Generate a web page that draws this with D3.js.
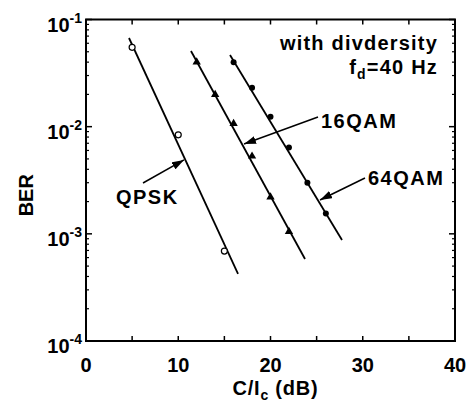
<!DOCTYPE html>
<html lang="en">
<head>
    <meta charset="UTF-8">
    <title>BER vs C/Ic with diversity</title>
    <style>
        body {
            margin: 0;
            background-color: #FFFFFF;
        }
        text {
            font-family: "Liberation Sans", Arial, sans-serif;
            font-weight: bold;
            fill: #000000;
        }
    </style>
</head>
<body>
    <div id="chart"></div>

    <script src="https://d3js.org/d3.v7.min.js"></script>
    <script>
        // Measured points (C/Ic in dB, BER)
        const qpskX = [5, 10, 15];
        const qpskBer = [0.055, 0.0084, 0.00069];
        const qam16X = [12, 14, 16, 18, 20, 22];
        const qam16Ber = [0.040, 0.0199, 0.0107, 0.0053, 0.0022, 0.00105];
        const qam64X = [16, 18, 20, 22, 24, 26];
        const qam64Ber = [0.040, 0.0231, 0.0124, 0.0064, 0.0030, 0.00155];

        // Fitted straight lines, end points
        const qpskLineX = [4.66, 16.48];
        const qpskLineBer = [0.0672, 0.000423];
        const qam16LineX = [11.38, 23.74];
        const qam16LineBer = [0.0508, 0.000582];
        const qam64LineX = [15.61, 27.75];
        const qam64LineBer = [0.0467, 0.000877];

        // Axis ticks
        const xTicks = [0, 10, 20, 30, 40];
        const xMinorTicks = [5, 15, 25, 35];
        const yTicks = [1e-4, 1e-3, 1e-2, 1e-1];
        const yTickExp = ["-4", "-3", "-2", "-1"];

        const width = 474;
        const height = 402;
        const margin = { top: 19.5, right: 19, bottom: 61, left: 86 };

        const svg = d3.select("#chart")
            .append("svg")
            .attr("width", width)
            .attr("height", height);

        const x = d3.scaleLinear()
            .domain([0, 40])
            .range([margin.left, width - margin.right]);

        const y = d3.scaleLog()
            .domain([1e-4, 1e-1])
            .range([height - margin.bottom, margin.top]);

        const x0 = x.range()[0], x1 = x.range()[1];
        const y0 = y.range()[0], y1 = y.range()[1];

        // Frame
        svg.append("rect")
            .attr("x", x0)
            .attr("y", y1)
            .attr("width", x1 - x0)
            .attr("height", y0 - y1)
            .attr("fill", "none")
            .attr("stroke", "#000")
            .attr("stroke-width", 2);

        // x ticks, inward on bottom and top
        const xAll = xTicks.concat(xMinorTicks);
        const xTickG = svg.append("g");
        xAll.forEach(v => {
            if (v === 0 || v === 40) return;
            xTickG.append("line")
                .attr("x1", x(v)).attr("x2", x(v))
                .attr("y1", y0).attr("y2", y0 - 5)
                .attr("stroke", "#000").attr("stroke-width", 1.5);
            xTickG.append("line")
                .attr("x1", x(v)).attr("x2", x(v))
                .attr("y1", y1).attr("y2", y1 + 5)
                .attr("stroke", "#000").attr("stroke-width", 1.5);
        });

        // log minor ticks on left and right
        const yMinor = [];
        yTicks.slice(0, 3).forEach(d => {
            for (let k = 2; k <= 9; k++) yMinor.push(d * k);
        });
        const yTickG = svg.append("g");
        yMinor.forEach(v => {
            [[x0, 3], [x1, -3]].forEach(([px, len]) => {
                yTickG.append("line")
                    .attr("x1", px).attr("x2", px + len)
                    .attr("y1", y(v)).attr("y2", y(v))
                    .attr("stroke", "#000").attr("stroke-width", 1.2);
            });
        });
        yTicks.forEach(v => {
            [[x0, 6], [x1, -6]].forEach(([px, len]) => {
                yTickG.append("line")
                    .attr("x1", px).attr("x2", px + len)
                    .attr("y1", y(v)).attr("y2", y(v))
                    .attr("stroke", "#000").attr("stroke-width", 1.5);
            });
        });

        // x tick labels
        svg.append("g").selectAll("text")
            .data(xTicks)
            .join("text")
            .attr("x", d => x(d))
            .attr("y", y0 + 31)
            .attr("text-anchor", "middle")
            .attr("font-size", 20)
            .text(d => d);

        // y tick labels, 10 with exponent
        yTicks.forEach((v, i) => {
            const t = svg.append("text")
                .attr("x", x0 - 4)
                .attr("y", y(v) + 12)
                .attr("text-anchor", "end")
                .attr("font-size", 20);
            t.append("tspan").text("10");
            t.append("tspan")
                .attr("font-size", 14)
                .attr("dy", -9)
                .text(yTickExp[i]);
        });

        // Axis titles
        const xt = svg.append("text")
            .attr("x", (x0 + x1) / 2 + 5)
            .attr("y", 395)
            .attr("text-anchor", "middle")
            .attr("font-size", 20)
            .attr("letter-spacing", 0.8);
        xt.append("tspan").text("C/I");
        xt.append("tspan").attr("font-size", 14).attr("dy", 5).text("c");
        xt.append("tspan").attr("dy", -5).text(" (dB)");

        svg.append("text")
            .attr("transform", `translate(33, ${(y0 + y1) / 2 + 15}) rotate(-90)`)
            .attr("text-anchor", "middle")
            .attr("font-size", 20)
            .text("BER");

        // Fitted lines
        const line = d3.line().x(d => x(d[0])).y(d => y(d[1]));
        [[qpskLineX, qpskLineBer], [qam16LineX, qam16LineBer], [qam64LineX, qam64LineBer]]
            .forEach(([xs, bs]) => {
                svg.append("path")
                    .datum(d3.zip(xs, bs))
                    .attr("d", line)
                    .attr("fill", "none")
                    .attr("stroke", "#000")
                    .attr("stroke-width", 1.8);
            });

        // Markers
        svg.append("g").selectAll("circle")
            .data(d3.zip(qpskX, qpskBer))
            .join("circle")
            .attr("cx", d => x(d[0]))
            .attr("cy", d => y(d[1]))
            .attr("r", 3)
            .attr("fill", "#fff")
            .attr("stroke", "#000")
            .attr("stroke-width", 1.2);

        svg.append("g").selectAll("path")
            .data(d3.zip(qam16X, qam16Ber))
            .join("path")
            .attr("transform", d => `translate(${x(d[0])},${y(d[1])})`)
            .attr("d", d3.symbol(d3.symbolTriangle, 30))
            .attr("fill", "#000");

        svg.append("g").selectAll("circle")
            .data(d3.zip(qam64X, qam64Ber))
            .join("circle")
            .attr("cx", d => x(d[0]))
            .attr("cy", d => y(d[1]))
            .attr("r", 3)
            .attr("fill", "#000");

        // Arrows pointing to each curve
        svg.append("defs").append("marker")
            .attr("id", "head")
            .attr("viewBox", "0 0 12 8")
            .attr("refX", 12)
            .attr("refY", 4)
            .attr("markerWidth", 12)
            .attr("markerHeight", 8)
            .attr("markerUnits", "userSpaceOnUse")
            .attr("orient", "auto")
            .append("path")
            .attr("d", "M0,0 L12,4 L0,8 Z")
            .attr("fill", "#000");

        const arrows = [
            { from: [6.18, 2.98e-3], to: [10.62, 4.89e-3] },
            { from: [25.15, 1.23e-2], to: [17.13, 6.89e-3] },
            { from: [30.24, 3.32e-3], to: [25.37, 2.07e-3] }
        ];
        arrows.forEach(a => {
            svg.append("line")
                .attr("x1", x(a.from[0])).attr("y1", y(a.from[1]))
                .attr("x2", x(a.to[0])).attr("y2", y(a.to[1]))
                .attr("stroke", "#000")
                .attr("stroke-width", 1.5)
                .attr("marker-end", "url(#head)");
        });

        // Curve labels
        const labels = [
            { text: "QPSK", at: [3.25, 1.9e-3] },
            { text: "16QAM", at: [25.47, 9.72e-3] },
            { text: "64QAM", at: [30.57, 2.86e-3] }
        ];
        labels.forEach(l => {
            svg.append("text")
                .attr("x", x(l.at[0]))
                .attr("y", y(l.at[1]))
                .attr("font-size", 20)
                .attr("letter-spacing", 1.5)
                .text(l.text);
        });

        // Condition note
        svg.append("text")
            .attr("x", 438)
            .attr("y", 50)
            .attr("text-anchor", "end")
            .attr("font-size", 20)
            .attr("letter-spacing", 1.2)
            .text("with divdersity");

        const fd = svg.append("text")
            .attr("x", 438)
            .attr("y", 74)
            .attr("text-anchor", "end")
            .attr("font-size", 20)
            .attr("letter-spacing", 1.2);
        fd.append("tspan").text("f");
        fd.append("tspan").attr("font-size", 14).attr("dy", 5).text("d");
        fd.append("tspan").attr("dy", -5).text("=40 Hz");
    </script>
</body>
</html>
